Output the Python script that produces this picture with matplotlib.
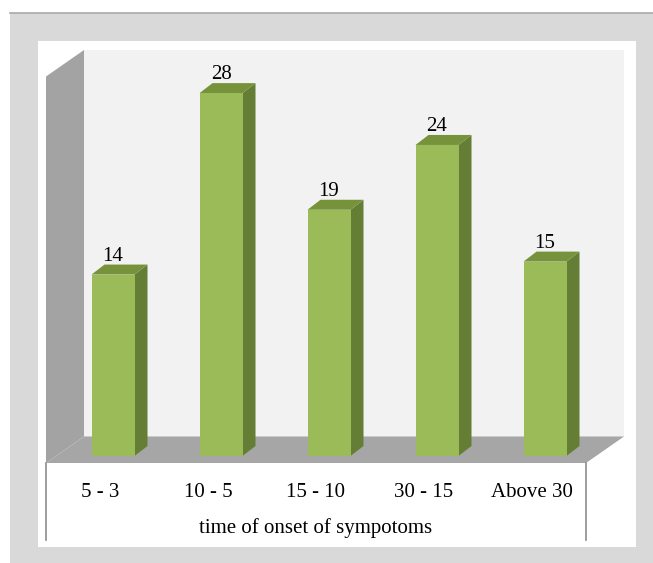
import numpy as np
import matplotlib.pyplot as plt
from matplotlib.patches import Polygon, Rectangle

categories = ['5 - 3', '10 - 5', '15 - 10', '30 - 15', 'Above 30']
counts = [14, 28, 19, 24, 15]
axis_title = 'time of onset of sympotoms'

W, H = 653, 563
fig = plt.figure(figsize=(W / 100, H / 100), dpi=100)
fig.patch.set_facecolor('white')

# outer gray frame and the white chart area (pixel boxes -> figure fractions)
def fbox(x0, y0, x1, y1):
    return (x0 / W, 1 - y1 / H), (x1 - x0) / W, (y1 - y0) / H

xy, w, h = fbox(10, 13, W, H)
fig.patches.append(Rectangle(xy, w, h, transform=fig.transFigure, facecolor='#d9d9d9',
                             edgecolor='none', zorder=-3))
fig.add_artist(plt.Line2D([10 / W, 1], [1 - 13 / H, 1 - 13 / H], transform=fig.transFigure,
                          color='#a9a9a9', lw=1.2, zorder=-2))
xy, w, h = fbox(38, 41, 636, 547)
fig.patches.append(Rectangle(xy, w, h, transform=fig.transFigure, facecolor='white',
                             edgecolor='none', zorder=-1))

# plotting axes: one x unit per category slot, one y unit per count
sx, sy = 108.0, 12.96          # pixels per unit
x0_px, base_px = 46, 456        # left edge of floor front, bar base
top_px, front_px, right_px = 50, 463, 625
ax = fig.add_axes([x0_px / W, 1 - front_px / H, (right_px - x0_px) / W, (front_px - top_px) / H])
ax.set_xlim(-0.5, -0.5 + (right_px - x0_px) / sx)
ylo = -(front_px - base_px) / sy
ytop = (base_px - top_px) / sy
ax.set_ylim(ylo, ytop)
ax.axis('off')

n = len(categories)
DX, DY = 38 / sx, 26.5 / sy      # depth of floor / walls
bdx, bdy = 13 / sx, 10 / sy      # depth of each bar
shift = 13 / sx
bw = 43 / sx

# walls and floor
ax.add_patch(Rectangle((-0.5 + DX, ylo + DY), n, ytop - ylo - DY, facecolor='#f2f2f2',
                       edgecolor='none', zorder=1))
ax.add_patch(Polygon([(-0.5, ylo), (-0.5 + DX, ylo + DY), (-0.5 + DX, ytop), (-0.5, ytop - DY)],
                     closed=True, facecolor='#a3a3a3', edgecolor='none', zorder=2))
ax.add_patch(Polygon([(-0.5, ylo), (n - 0.5, ylo), (n - 0.5 + DX, ylo + DY), (-0.5 + DX, ylo + DY)],
                     closed=True, facecolor='#a6a6a6', edgecolor='none', zorder=2))

# bars with side and top faces
x = np.arange(n) + shift
ax.bar(x, counts, width=bw, color='#9bbb59', zorder=4)
for xi, v in zip(x, counts):
    xl, xr = xi - bw / 2, xi + bw / 2
    ax.add_patch(Polygon([(xr, 0), (xr + bdx, bdy), (xr + bdx, v + bdy), (xr, v)],
                         closed=True, facecolor='#647e35', edgecolor='none', zorder=3))
    ax.add_patch(Polygon([(xl, v), (xr, v), (xr + bdx, v + bdy), (xl + bdx, v + bdy)],
                         closed=True, facecolor='#76933c', edgecolor='none', zorder=3))
    ax.annotate(str(v), (xi, v), xytext=(0, 10), textcoords='offset points',
                ha='center', va='baseline', fontsize=15, family='Liberation Serif',
                color='black', zorder=5)

# category axis below the floor
y_line = -(540 - base_px) / sy
for xe in (-0.5, n - 0.5):
    ax.plot([xe, xe], [ylo, y_line], color='#8c8c8c', lw=1.2, clip_on=False, zorder=2)
for i, c in enumerate(categories):
    ax.text(i, -(497 - base_px) / sy, c, ha='center', va='baseline', fontsize=15,
            family='Liberation Serif', clip_on=False)
ax.text((n - 1) / 2, -(528 - base_px) / sy, axis_title, ha='center', va='center',
        fontsize=15, family='Liberation Serif', clip_on=False)

fig.savefig('out.png', dpi=100)
